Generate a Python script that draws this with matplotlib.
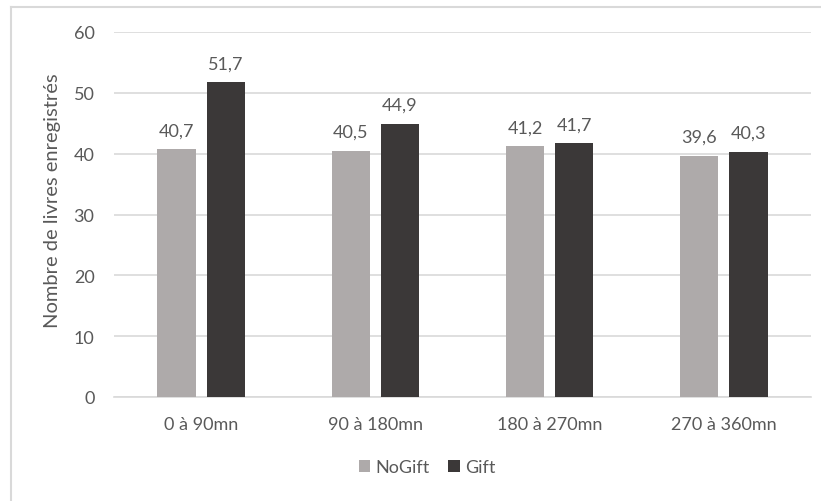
import matplotlib.pyplot as plt
import numpy as np
from matplotlib.lines import Line2D

plt.rcParams['font.family'] = ['Lato', 'DejaVu Sans']

categories = ["0 à 90mn", "90 à 180mn", "180 à 270mn", "270 à 360mn"]
nogift = [40.7, 40.5, 41.2, 39.6]
gift = [51.7, 44.9, 41.7, 40.3]
series_names = ["NoGift", "Gift"]
yticks = [0, 10, 20, 30, 40, 50, 60]

c_nogift = "#AEAAAA"
c_gift = "#3B3838"
txt = "#595959"
grid = "#D9D9D9"
fs = 13

fig = plt.figure(figsize=(8.21, 5.02), dpi=100)

# chart frame: only the top and left edges fall inside the image
fx, fy = 10.5 / 821, 1 - 7.5 / 502
fig.lines.append(Line2D([fx, 1], [fy, fy], transform=fig.transFigure,
                        color="#D9D9D9", linewidth=1.5))
fig.lines.append(Line2D([fx, fx], [0, fy], transform=fig.transFigure,
                        color="#D9D9D9", linewidth=1.5))

ax = fig.add_axes([114/821, 1 - 398/502, 697/821, 365/502])

x = np.arange(len(categories))
w = 0.22
off = 0.141
b1 = ax.bar(x - off, nogift, w, color=c_nogift, label=series_names[0], zorder=3)
b2 = ax.bar(x + off, gift, w, color=c_gift, label=series_names[1], zorder=3)

for bars, vals in ((b1, nogift), (b2, gift)):
    for rect, v in zip(bars, vals):
        ax.annotate(f"{v:.1f}".replace(".", ","),
                    (rect.get_x() + rect.get_width() / 2, v),
                    xytext=(0, 8), textcoords="offset points",
                    ha="center", va="bottom", fontsize=fs, color=txt)

ax.set_xlim(-0.5, len(categories) - 0.5)
ax.set_ylim(0, 60)
ax.set_yticks(yticks)
ax.set_yticklabels([str(t) for t in yticks])
ax.set_xticks(x)
ax.set_xticklabels(categories)
ax.tick_params(axis="both", length=0, labelsize=fs, colors=txt)
ax.tick_params(axis="x", pad=14)
ax.tick_params(axis="y", pad=14)
ax.yaxis.grid(True, color=grid, linewidth=1.2, zorder=0)
for s in ("top", "right", "left"):
    ax.spines[s].set_visible(False)
ax.spines["bottom"].set_color(grid)
ax.spines["bottom"].set_linewidth(1.2)

ax.set_ylabel("Nombre de livres enregistrés", fontsize=14.5, color=txt,
              va="center", ha="center")
ax.yaxis.set_label_coords(-0.088, 0.54)

fig.legend(handles=[b1, b2], labels=series_names, loc="center",
           bbox_to_anchor=(427/821, 1 - 468/502), ncol=2, frameon=False,
           fontsize=fs, labelcolor=txt, handlelength=0.65, handleheight=0.65,
           handletextpad=0.3, columnspacing=1.0)

fig.savefig("out.png", dpi=100)
